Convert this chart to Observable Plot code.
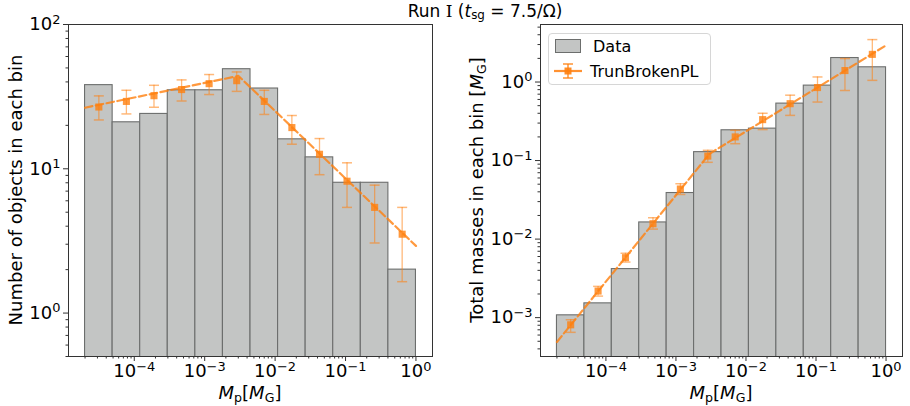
<!DOCTYPE html>
<html>
<head>
<meta charset="utf-8">
<script src="https://cdn.jsdelivr.net/npm/d3@7"></script>
<script src="https://cdn.jsdelivr.net/npm/@observablehq/plot@0.6"></script>
<style>
  html, body { margin: 0; padding: 0; background: #fff; }
  body { font-family: "DejaVu Sans", sans-serif; color: #000; }
  #wrap { position: relative; width: 910px; height: 406px; overflow: hidden; }
  .panel { position: absolute; top: 0; }
  .lbl { position: absolute; font-size: 18px; white-space: nowrap; line-height: 1; }
  .ylbl { transform: translate(-50%, -50%) rotate(-90deg); }
  .xlbl { transform: translate(-50%, -50%); }
  sub { font-size: 0.7em; vertical-align: -0.25em; line-height: 0; }
  #legend { position: absolute; left: 548px; top: 33px; width: 161px; height: 50px;
    border: 1px solid #d6d6d6; border-radius: 4px; background: rgba(255,255,255,0.85); font-size: 16px; }
  #legend .row { position: absolute; left: 0; height: 20px; display: flex; align-items: center; }
</style>
</head>
<body>
<div id="wrap"></div>
<script>
// ---------------- data ----------------
// log-spaced bin edges (M_p in M_G)
const binEdges = [2.0e-5, 4.93e-5, 1.214e-4, 2.99e-4, 7.37e-4, 1.816e-3, 4.474e-3, 1.102e-2, 2.715e-2, 6.69e-2, 0.1648, 0.4061, 1.0];
// bin centres (geometric)
const binCenters = [3.14e-5, 7.73e-5, 1.905e-4, 4.70e-4, 1.156e-3, 2.85e-3, 7.02e-3, 1.73e-2, 4.27e-2, 0.105, 0.259, 0.637];

// left panel: number of objects per bin
const counts = [38, 21, 24, 35, 35, 49, 36, 16, 12, 8, 8, 2];
const countFit = [26.8, 29.3, 32.1, 35.4, 38.9, 40.8, 29.3, 19.3, 12.6, 8.2, 5.4, 3.52];
const countFitLo = [21.8, 24.0, 26.7, 29.5, 32.7, 34.4, 23.8, 14.8, 9.1, 5.4, 3.06, 1.65];
const countFitHi = [32.0, 35.0, 37.9, 41.3, 45.0, 46.9, 35.0, 23.4, 16.2, 11.0, 7.7, 5.4];
const countLineX = [2.0e-5, 3.02e-3, 1.0];
const countLineY = [26.5, 44.0, 2.92];

// right panel: total mass per bin
const masses = [1.07e-3, 1.52e-3, 4.15e-3, 0.0163, 0.0386, 0.128, 0.243, 0.255, 0.531, 0.90, 2.02, 1.54];
const massFit = [8.1e-4, 2.18e-3, 5.8e-3, 0.0157, 0.0434, 0.114, 0.200, 0.332, 0.53, 0.85, 1.40, 2.25];
const massFitLo = [6.5e-4, 1.88e-3, 5.1e-3, 0.0134, 0.037, 0.095, 0.164, 0.248, 0.376, 0.556, 0.78, 1.05];
const massFitHi = [9.4e-4, 2.5e-3, 6.6e-3, 0.0187, 0.0507, 0.135, 0.243, 0.40, 0.68, 1.16, 1.99, 3.47];
const massLineX = [2.0e-5, 3.02e-3, 1.0];
const massLineY = [4.9e-4, 0.122, 2.93];

const xMajor = [1e-4, 1e-3, 1e-2, 1e-1, 1];
const yMajorLeft = [1, 10, 100];
const yMajorRight = [1e-3, 1e-2, 1e-1, 1];

// ---------------- helpers ----------------
const ORANGE = "#ff7f0e";
const BAR_FILL = "#c3c5c4";
const BAR_STROKE = "#6c6e6d";

function minorTicks(domain) {
  const out = [];
  const lo = Math.floor(Math.log10(domain[0])), hi = Math.ceil(Math.log10(domain[1]));
  for (let e = lo; e <= hi; e++) for (let k = 2; k <= 9; k++) {
    const v = k * Math.pow(10, e);
    if (v >= domain[0] && v <= domain[1]) out.push(v);
  }
  return out;
}
const powLabel = v => "10^" + Math.round(Math.log10(v));
const capSymbol = { draw(ctx, size) { const w = Math.sqrt(size / Math.PI); ctx.moveTo(-w, 0); ctx.lineTo(w, 0); } };

function supify(svg) {
  d3.select(svg).selectAll("g[aria-label$='tick label'] text").each(function () {
    const t = this.textContent;
    if (!t.includes("^")) return;
    const [base, exp] = t.split("^");
    const el = d3.select(this);
    el.text(null);
    el.append("tspan").text(base);
    el.append("tspan").attr("dy", "-0.5em").attr("font-size", "0.72em").text(exp.replace("-", "\u2212"));
  });
}

function panel({ heights, fit, lo, hi, lineX, lineY, yDomain, yMajor, marginLeft, marginRight }) {
  const xDomain = [Math.pow(10, -4.934), Math.pow(10, 0.235)];
  const bins = heights.map((h, i) => ({ x1: binEdges[i], x2: binEdges[i + 1], h }));
  const pts = fit.map((v, i) => ({ x: binCenters[i], y: v, lo: lo[i], hi: hi[i] }));
  const line = lineX.map((x, i) => ({ x, y: lineY[i] }));
  const svg = Plot.plot({
    width: 455, height: 406,
    marginLeft, marginRight, marginTop: 24, marginBottom: 50,
    style: { fontFamily: "DejaVu Sans, sans-serif", fontSize: "18px", color: "#000", background: "transparent" },
    x: { type: "log", domain: xDomain },
    y: { type: "log", domain: yDomain },
    marks: [
      Plot.rect(bins, { x1: "x1", x2: "x2", y1: () => 1e-8, y2: "h", fill: BAR_FILL, stroke: BAR_STROKE, strokeWidth: 1.1, clip: true }),
      Plot.line(line, { x: "x", y: "y", stroke: ORANGE, strokeOpacity: 0.8, strokeWidth: 2.2, strokeDasharray: "7.5,3.5", clip: true }),
      Plot.ruleX(pts, { x: "x", y1: "lo", y2: "hi", stroke: ORANGE, strokeOpacity: 0.55, strokeWidth: 1.3 }),
      Plot.dot(pts, { x: "x", y: "hi", symbol: capSymbol, r: 5, stroke: ORANGE, strokeOpacity: 0.55, strokeWidth: 1.5, fill: "none" }),
      Plot.dot(pts, { x: "x", y: "lo", symbol: capSymbol, r: 5, stroke: ORANGE, strokeOpacity: 0.55, strokeWidth: 1.5, fill: "none" }),
      Plot.dot(pts, { x: "x", y: "y", symbol: "square", r: 4, fill: ORANGE, fillOpacity: 0.8, stroke: "none" }),
      Plot.frame({ stroke: "#333", strokeWidth: 1 }),
      Plot.axisX({ ticks: xMajor, tickFormat: powLabel, tickSize: 5, tickPadding: 3, label: null, stroke: "#333" }),
      Plot.axisX({ ticks: minorTicks(xDomain), tickFormat: () => "", tickSize: 2.5, label: null, stroke: "#333" }),
      Plot.axisY({ ticks: yMajor, tickFormat: powLabel, tickSize: 5, tickPadding: 3, label: null, stroke: "#333" }),
      Plot.axisY({ ticks: minorTicks(yDomain), tickFormat: () => "", tickSize: 2.5, label: null, stroke: "#333" })
    ]
  });
  supify(svg);
  return svg;
}

const wrap = document.getElementById("wrap");

const left = panel({ heights: counts, fit: countFit, lo: countFitLo, hi: countFitHi, lineX: countLineX, lineY: countLineY,
  yDomain: [0.5, 100], yMajor: yMajorLeft, marginLeft: 68, marginRight: 23 });
left.classList.add("panel"); left.style.left = "0px";
wrap.appendChild(left);

const right = panel({ heights: masses, fit: massFit, lo: massFitLo, hi: massFitHi, lineX: massLineX, lineY: massLineY,
  yDomain: [3.2e-4, 5.4], yMajor: yMajorRight, marginLeft: 85, marginRight: 8 });
right.classList.add("panel"); right.style.left = "455px";
wrap.appendChild(right);

// labels & title
function addLabel(html, x, y, cls, size) {
  const d = document.createElement("div");
  d.className = "lbl " + cls; d.innerHTML = html;
  d.style.left = x + "px"; d.style.top = y + "px";
  if (size) d.style.fontSize = size + "px";
  wrap.appendChild(d);
}
addLabel('Run <span style="font-family:\'DejaVu Serif\',serif">I</span> (<i>t</i><sub>sg</sub> = 7.5/\u03A9)', 485, 11, "xlbl", 17);
addLabel('<i>M</i><sub>p</sub>[<i>M</i><sub>G</sub>]', 250, 393, "xlbl");
addLabel('<i>M</i><sub>p</sub>[<i>M</i><sub>G</sub>]', 721, 393, "xlbl");
addLabel('Number of objects in each bin', 16, 190, "ylbl");
addLabel('Total masses in each bin [<i>M</i><sub>G</sub>]', 477, 190, "ylbl");

// legend
const lg = document.createElement("div");
lg.id = "legend";
lg.innerHTML = `
  <div class="row" style="top:2px;">
    <span style="display:inline-block;margin-left:6px;width:24px;height:12px;background:${BAR_FILL};border:1px solid ${BAR_STROKE};"></span>
    <span style="margin-left:12px;">Data</span>
  </div>
  <div class="row" style="top:27px;">
    <svg width="28" height="20" style="margin-left:5px;">
      <line x1="0" y1="10" x2="28" y2="10" stroke="${ORANGE}" stroke-opacity="0.85" stroke-width="2.2"/>
      <line x1="14" y1="3" x2="14" y2="17" stroke="${ORANGE}" stroke-opacity="0.85" stroke-width="1.5"/>
      <line x1="9" y1="3" x2="19" y2="3" stroke="${ORANGE}" stroke-opacity="0.85" stroke-width="1.5"/>
      <line x1="9" y1="17" x2="19" y2="17" stroke="${ORANGE}" stroke-opacity="0.85" stroke-width="1.5"/>
      <rect x="10.5" y="6.5" width="7" height="7" fill="${ORANGE}" fill-opacity="0.9"/>
    </svg>
    <span style="margin-left:8px;">TrunBrokenPL</span>
  </div>`;
wrap.appendChild(lg);
</script>
</body>
</html>
